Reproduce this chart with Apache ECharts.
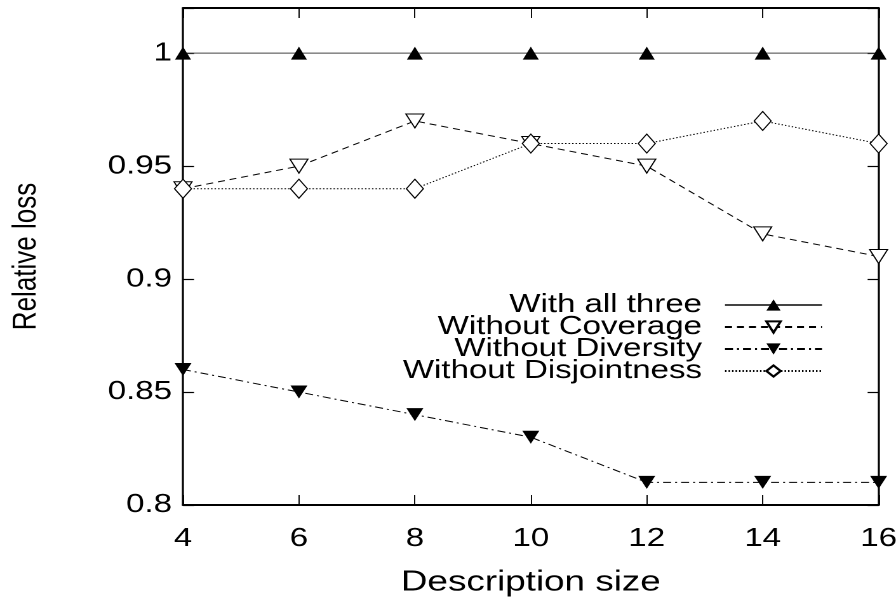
<!DOCTYPE html>
<html>
<head>
<meta charset="utf-8">
<script src="https://cdn.jsdelivr.net/npm/echarts@6/dist/echarts.min.js"></script>
<style>
html,body{margin:0;padding:0;background:#fff;overflow:hidden}
#wrap{width:896px;height:604px;overflow:hidden}
#c{height:604px;transform-origin:0 0}
</style>
</head>
<body>
<div id="wrap"><div id="c"></div></div>
<script>
const sizes = [4, 6, 8, 10, 12, 14, 16];
const withAllThree = [1, 1, 1, 1, 1, 1, 1];
const withoutCoverage = [0.94, 0.95, 0.97, 0.96, 0.95, 0.92, 0.91];
const withoutDiversity = [0.86, 0.85, 0.84, 0.83, 0.81, 0.81, 0.81];
const withoutDisjointness = [0.94, 0.94, 0.94, 0.96, 0.96, 0.97, 0.96];
const seriesNames = ['With all three', 'Without Coverage', 'Without Diversity', 'Without Disjointness'];
const yTickLabels = ['0.8', '0.85', '0.9', '0.95', '1'];

// the reference is drawn with horizontally widened glyphs; reproduce by a horizontal stretch
const S = 1.27;
const W = 896 / S;
const el = document.getElementById('c');
el.style.width = W + 'px';
el.style.transform = 'scaleX(' + S + ')';

const FONT = 'Liberation Sans';
const pairs = arr => sizes.map((s, i) => [s, arr[i]]);
const hx = v => v / S; // final horizontal pixels -> pre-stretch pixels

const chart = echarts.init(el, null, {renderer: 'canvas', devicePixelRatio: 2});
const xLine = {show: true, onZero: false, lineStyle: {color: '#000', width: 2}};
const yLine = {show: true, onZero: false, lineStyle: {color: '#000', width: hx(2)}};
const xTick = {show: true, inside: true, length: 10, lineStyle: {color: '#000', width: hx(1.2)}};
const yTick = {show: true, inside: true, length: hx(11), lineStyle: {color: '#000', width: 1.2}};

chart.setOption({
  animation: false,
  backgroundColor: '#fff',
  grid: {left: hx(183), right: hx(18), top: 8, bottom: 99, containLabel: false, outerBoundsMode: 'none'},
  xAxis: [{
    type: 'value', min: 4, max: 16, interval: 2, position: 'bottom',
    axisLine: xLine, axisTick: xTick, splitLine: {show: false},
    axisLabel: {color: '#000', fontFamily: FONT, fontSize: 26, margin: 21},
    name: 'Description size', nameLocation: 'middle', nameGap: 63,
    nameTextStyle: {color: '#000', fontFamily: FONT, fontSize: 29}
  }, {
    type: 'value', min: 4, max: 16, interval: 2, position: 'top',
    axisLine: xLine, axisTick: xTick, splitLine: {show: false},
    axisLabel: {show: false}
  }],
  yAxis: [{
    type: 'value', min: 0.8, max: 1.02, interval: 0.05, position: 'left',
    axisLine: yLine, axisTick: yTick, splitLine: {show: false},
    axisLabel: {color: '#000', fontFamily: FONT, fontSize: 26, margin: hx(11),
      formatter: v => {
        const s = String(parseFloat(v.toFixed(2)));
        return yTickLabels.indexOf(s) >= 0 ? s : '';
      }},
    name: 'Relative loss', nameLocation: 'middle', nameGap: hx(140),
    nameTextStyle: {color: '#000', fontFamily: FONT, fontSize: 26}
  }, {
    type: 'value', min: 0.8, max: 1.02, interval: 0.05, position: 'right',
    axisLine: yLine, axisTick: yTick, splitLine: {show: false},
    axisLabel: {show: false}
  }],
  legend: {
    orient: 'vertical', align: 'right', right: hx(67), top: 287,
    itemWidth: hx(97), itemHeight: 14, itemGap: -4,
    textStyle: {color: '#000', fontFamily: FONT, fontSize: 26, lineHeight: 22.7,
      padding: [0, hx(23) - 5, 0, 0]},
    data: seriesNames
  },
  series: [{
    name: seriesNames[0], type: 'line', data: pairs(withAllThree),
    symbol: 'triangle', symbolSize: [hx(16), 13],
    lineStyle: {color: '#444', width: 1, type: 'solid'},
    itemStyle: {color: '#000', borderWidth: 0}
  }, {
    name: seriesNames[1], type: 'line', data: pairs(withoutCoverage),
    symbol: 'triangle', symbolRotate: 180, symbolSize: [hx(18), 14],
    lineStyle: {color: '#000', width: 1, type: [hx(7), hx(5)]},
    itemStyle: {color: '#fff', borderColor: '#000', borderWidth: 1}
  }, {
    name: seriesNames[2], type: 'line', data: pairs(withoutDiversity),
    symbol: 'triangle', symbolRotate: 180, symbolSize: [hx(17), 13],
    lineStyle: {color: '#000', width: 1, type: [hx(8), hx(4), hx(2), hx(4)]},
    itemStyle: {color: '#000', borderWidth: 0}
  }, {
    name: seriesNames[3], type: 'line', data: pairs(withoutDisjointness),
    symbol: 'diamond', symbolSize: [hx(17), 19],
    lineStyle: {color: '#000', width: 1, type: [hx(1.5), hx(2)]},
    itemStyle: {color: '#fff', borderColor: '#000', borderWidth: 1}
  }]
});
</script>
</body>
</html>
